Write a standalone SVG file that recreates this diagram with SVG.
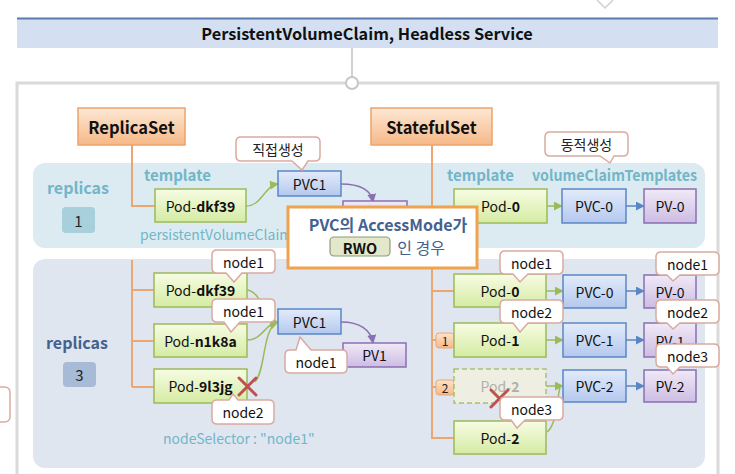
<svg xmlns="http://www.w3.org/2000/svg" width="735" height="474" viewBox="0 0 735 474">
<style>
text{font-family:"Noto Sans CJK KR","Noto Sans",sans-serif;dominant-baseline:central}
.c{text-anchor:middle}
.lbl{font-size:14px;fill:#111;text-anchor:middle}
.b{font-weight:bold}
.tpl{font-size:15px;font-weight:bold;fill:#72b6c8}
.note{font-size:14px;fill:#72b6c8}
.pod{fill:url(#gPod);stroke:#9bbb59;stroke-width:1.5}
.pvc{fill:url(#gPvc);stroke:#5b86c5;stroke-width:1.5}
.pv{fill:url(#gPv);stroke:#8a6fb3;stroke-width:1.5}
.set{fill:url(#gOr);stroke:#eda36b;stroke-width:1.5}
.call{fill:#fff;stroke:#d9aaa0;stroke-width:1.5}
.or{fill:none;stroke:#eba672;stroke-width:2}
.gr{fill:none;stroke:#9bbb59;stroke-width:1.5}
.bl{fill:none;stroke:#5b86c5;stroke-width:1.5}
.pu{fill:none;stroke:#8a6fb3;stroke-width:1.5}
.x{stroke:#c0504d;stroke-width:3;stroke-linecap:round}
</style>
<defs>
<linearGradient id="gOr" x1="0" y1="0" x2="0" y2="1"><stop offset="0" stop-color="#fde8d4"/><stop offset="1" stop-color="#f6b887"/></linearGradient>
<linearGradient id="gPod" x1="0" y1="0" x2="0" y2="1"><stop offset="0" stop-color="#f7fce4"/><stop offset="1" stop-color="#d5eba2"/></linearGradient>
<linearGradient id="gPvc" x1="0" y1="0" x2="0" y2="1"><stop offset="0" stop-color="#e3ebfa"/><stop offset="1" stop-color="#b4c8ee"/></linearGradient>
<linearGradient id="gPv" x1="0" y1="0" x2="0" y2="1"><stop offset="0" stop-color="#f0eaf7"/><stop offset="1" stop-color="#cdbce3"/></linearGradient>
<linearGradient id="gBadge" x1="0" y1="0" x2="0" y2="1"><stop offset="0" stop-color="#fde3cc"/><stop offset="1" stop-color="#f6b987"/></linearGradient>
<marker id="ag" viewBox="0 0 10 10" refX="9" refY="5" markerWidth="9" markerHeight="9" markerUnits="userSpaceOnUse" orient="auto"><path d="M0,0 L10,5 L0,10 z" fill="#9bbb59"/></marker>
<marker id="ab" viewBox="0 0 10 10" refX="9" refY="5" markerWidth="9" markerHeight="9" markerUnits="userSpaceOnUse" orient="auto"><path d="M0,0 L10,5 L0,10 z" fill="#5b86c5"/></marker>
<marker id="ap" viewBox="0 0 10 10" refX="9" refY="5" markerWidth="9" markerHeight="9" markerUnits="userSpaceOnUse" orient="auto"><path d="M0,0 L10,5 L0,10 z" fill="#8a6fb3"/></marker>
</defs>

<!-- background fragments -->
<rect x="0" y="0" width="735" height="474" fill="#ffffff"/>
<path d="M597,0 L605,8 L613,0" fill="#fff" stroke="#cfcfcf" stroke-width="1.5"/>
<rect x="-30" y="387" width="40" height="35" rx="5" class="call"/>

<!-- header -->
<g id="header">
<rect x="17" y="18" width="701" height="30" fill="#d4e0f1"/>
<line x1="17" y1="18.5" x2="718" y2="18.5" stroke="#5a7bab" stroke-width="2"/>
<text x="367" y="33" class="c b" font-size="16.3" fill="#111">PersistentVolumeClaim, Headless Service</text>
</g>
<line x1="352" y1="48" x2="352" y2="77" stroke="#d2d2d2" stroke-width="2"/>

<!-- outer panel -->
<g id="panel">
<rect x="17" y="83" width="701" height="410" fill="#fff" stroke="#dadada" stroke-width="3"/>
<circle cx="352" cy="83" r="6" fill="#fff" stroke="#c6c6c6" stroke-width="2"/>
</g>

<!-- regions -->
<rect id="region-top" x="33" y="163" width="672" height="85" rx="12" fill="#dcebf1"/>
<rect id="region-bottom" x="33" y="259" width="672" height="209" rx="12" fill="#dfe6f0"/>

<!-- labels in regions -->
<g id="replicas1">
<text x="78" y="187" class="c b" font-size="16" fill="#72b6c8">replicas</text>
<rect x="62" y="207" width="33" height="26" rx="4" fill="#a8cfdc"/>
<text x="78.5" y="220" class="c" font-size="15" fill="#222">1</text>
</g>
<g id="replicas3">
<text x="77" y="342" class="c b" font-size="16" fill="#44618f">replicas</text>
<rect x="63" y="362" width="33" height="25" rx="4" fill="#a7bad6"/>
<text x="79.5" y="374.5" class="c" font-size="15" fill="#222">3</text>
</g>
<text x="144" y="174" class="tpl">template</text>
<text x="447" y="174" class="tpl">template</text>
<text x="532" y="174" class="tpl" textLength="165" lengthAdjust="spacingAndGlyphs">volumeClaimTemplates</text>
<text x="140" y="234" class="note">persistentVolumeClaim</text>
<text x="163" y="438" class="note">nodeSelector : "node1"</text>

<!-- connectors -->
<g id="connectors">
<path class="or" d="M132,145 V206 H155"/>
<path class="or" d="M132,260 V387 M132,290 H154 M132,341 H154 M132,387 H154"/>
<path class="or" d="M432,145 V438 H454 M432,291 H454 M432,340 H437 M432,387 H437"/>
<path class="gr" d="M246,206 C262,206 264,186 278,184" marker-end="url(#ag)"/>
<path class="pu" d="M341,184 C360,184 371,190 373,202" marker-end="url(#ap)"/>
<path class="gr" d="M247,290 C263,292 264,322 278,322" marker-end="url(#ag)"/>
<path class="gr" d="M247,340 C263,340 264,324 278,322" marker-end="url(#ag)"/>
<path class="gr" d="M255,382 C266,370 262,328 278,322" marker-end="url(#ag)"/>
<path class="pu" d="M341,322 C360,322 371,330 373,343" marker-end="url(#ap)"/>
<path class="gr" d="M547,206 H562" marker-end="url(#ag)"/>
<path class="bl" d="M626,206 H644" marker-end="url(#ab)"/>
<path class="gr" d="M546,291 H563" marker-end="url(#ag)"/>
<path class="bl" d="M626,291 H644" marker-end="url(#ab)"/>
<path class="gr" d="M546,340 H563" marker-end="url(#ag)"/>
<path class="bl" d="M626,340 H644" marker-end="url(#ab)"/>
<path class="gr" d="M546,386 H563" marker-end="url(#ag)"/>
<path class="bl" d="M626,386 H644" marker-end="url(#ab)"/>
<path class="gr" d="M547,432 C557,425 557,396 560,388"/>
</g>

<!-- sets -->
<g id="replicaset"><rect x="78" y="108" width="107" height="37" class="set"/><text x="131.5" y="127" class="c b" font-size="16.5" fill="#111">ReplicaSet</text></g>
<g id="statefulset"><rect x="371" y="108" width="121" height="37" class="set"/><text x="431.5" y="127" class="c b" font-size="16.5" fill="#111">StatefulSet</text></g>

<!-- left top -->
<g id="pod-dkf39-top"><rect x="155" y="189" width="91" height="33" class="pod"/><text x="200.5" y="205.5" class="lbl">Pod-<tspan class="b">dkf39</tspan></text></g>
<g id="pvc1-top"><rect x="278" y="171" width="63" height="25" class="pvc"/><text x="309.5" y="183.5" class="lbl">PVC1</text></g>
<g id="pv1-top"><rect x="343" y="201" width="64" height="25" class="pv"/></g>
<g id="callout-direct"><path class="call" d="M241,137 H315 Q320,137 320,142 V156 Q320,161 315,161 H308 L302,170 L292,161 H241 Q236,161 236,156 V142 Q236,137 241,137 Z"/><text x="278" y="149" class="c" font-size="14" fill="#222">직접생성</text></g>

<!-- right top -->
<g id="callout-dynamic"><path class="call" d="M550,132 H623 Q628,132 628,137 V151 Q628,156 623,156 H614 L610,163 L600,156 H550 Q545,156 545,151 V137 Q545,132 550,132 Z"/><text x="586.5" y="144" class="c" font-size="14" fill="#222">동적생성</text></g>
<g id="pod-0-top"><rect x="454" y="189" width="93" height="34" class="pod"/><text x="500.5" y="206" class="lbl">Pod-<tspan class="b">0</tspan></text></g>
<g id="pvc-0-top"><rect x="562" y="189" width="64" height="34" class="pvc"/><text x="594" y="206" class="lbl">PVC-0</text></g>
<g id="pv-0-top"><rect x="644" y="189" width="52" height="34" class="pv"/><text x="670" y="206" class="lbl">PV-0</text></g>

<!-- left bottom -->
<g id="pod-dkf39"><rect x="154" y="273" width="93" height="34" class="pod"/><text x="200.5" y="290" class="lbl">Pod-<tspan class="b">dkf39</tspan></text></g>
<g id="pod-n1k8a"><rect x="154" y="324" width="93" height="33" class="pod"/><text x="200.5" y="340.5" class="lbl">Pod-<tspan class="b">n1k8a</tspan></text></g>
<g id="pod-9l3jg"><rect x="154" y="369" width="93" height="34" class="pod"/><text x="200.5" y="386" class="lbl">Pod-<tspan class="b">9l3jg</tspan></text></g>
<g id="x-left"><path class="x" d="M239,378 L256,395 M256,378 L239,395"/></g>
<g id="pvc1"><rect x="278" y="309" width="63" height="25" class="pvc"/><text x="309.5" y="321.5" class="lbl">PVC1</text></g>
<g id="pv1"><rect x="343" y="343" width="63" height="24" class="pv"/><text x="374.5" y="355" class="lbl">PV1</text></g>
<g id="n-dkf39"><path class="call" d="M217,250 H270 Q275,250 275,255 V268 Q275,273 270,273 H242 L234,282 L226,273 H217 Q212,273 212,268 V255 Q212,250 217,250 Z"/><text x="243.5" y="261.5" class="lbl">node1</text></g>
<g id="n-n1k8a"><path class="call" d="M217,299 H270 Q275,299 275,304 V317 Q275,322 270,322 H240 L231,332 L224,322 H217 Q212,322 212,317 V304 Q212,299 217,299 Z"/><text x="243.5" y="310.5" class="lbl">node1</text></g>
<g id="n-9l3jg"><path class="call" d="M217,400 H229 L233,394 L238,400 H269 Q274,400 274,405 V419 Q274,424 269,424 H217 Q212,424 212,419 V405 Q212,400 217,400 Z"/><text x="243" y="412" class="lbl">node2</text></g>
<g id="n-pvc1"><path class="call" d="M290,350 H296 L300,337 L311,350 H342 Q347,350 347,355 V368 Q347,373 342,373 H290 Q285,373 285,368 V355 Q285,350 290,350 Z"/><text x="316" y="361.5" class="lbl">node1</text></g>

<!-- right bottom -->
<g id="badge1"><rect x="436" y="333" width="18" height="15" rx="3" fill="url(#gBadge)" stroke="#eba672" stroke-width="1"/><text x="445" y="340.5" class="c" font-size="12" fill="#222">1</text></g>
<g id="badge2"><rect x="436" y="380" width="18" height="15" rx="3" fill="url(#gBadge)" stroke="#eba672" stroke-width="1"/><text x="445" y="387.5" class="c" font-size="12" fill="#222">2</text></g>
<g id="pod-0"><rect x="454" y="274" width="92" height="33" class="pod"/><text x="500" y="290.5" class="lbl">Pod-<tspan class="b">0</tspan></text></g>
<g id="pod-1"><rect x="454" y="323" width="92" height="34" class="pod"/><text x="500" y="340" class="lbl">Pod-<tspan class="b">1</tspan></text></g>
<g id="pod-2-old"><rect x="454" y="369" width="92" height="34" fill="#eeeee2" stroke="#a9c06e" stroke-width="1.5" stroke-dasharray="5,3"/><text x="500" y="386" class="lbl" style="fill:#b0b0a8">Pod-<tspan class="b">2</tspan></text></g>
<g id="pod-2"><rect x="454" y="421" width="92" height="33" class="pod"/><text x="500" y="437.5" class="lbl">Pod-<tspan class="b">2</tspan></text></g>
<g id="x-right"><path class="x" d="M491,390 L508,407 M508,390 L491,407"/></g>
<g id="pvc-0"><rect x="563" y="275" width="63" height="33" class="pvc"/><text x="594.5" y="291.5" class="lbl">PVC-0</text></g>
<g id="pvc-1"><rect x="563" y="323" width="63" height="34" class="pvc"/><text x="594.5" y="340" class="lbl">PVC-1</text></g>
<g id="pvc-2"><rect x="563" y="370" width="63" height="32" class="pvc"/><text x="594.5" y="386" class="lbl">PVC-2</text></g>
<g id="pv-0"><rect x="644" y="275" width="52" height="33" class="pv"/><text x="670" y="291.5" class="lbl">PV-0</text></g>
<g id="pv-1"><rect x="644" y="323" width="52" height="34" class="pv"/><text x="670" y="341" class="lbl">PV-1</text></g>
<g id="pv-2"><rect x="644" y="370" width="52" height="32" class="pv"/><text x="670" y="386" class="lbl">PV-2</text></g>
<g id="n-pod0"><path class="call" d="M505,251 H558 Q563,251 563,256 V269 Q563,274 558,274 H528 L520,282 L513,274 H505 Q500,274 500,269 V256 Q500,251 505,251 Z"/><text x="531.5" y="262.5" class="lbl">node1</text></g>
<g id="n-pod1"><path class="call" d="M505,300 H558 Q563,300 563,305 V318 Q563,323 558,323 H528 L520,332 L513,323 H505 Q500,323 500,318 V305 Q500,300 505,300 Z"/><text x="531.5" y="311.5" class="lbl">node2</text></g>
<g id="n-pod2"><path class="call" d="M505,397 H558 Q563,397 563,402 V415 Q563,420 558,420 H525 L517,428 L511,420 H505 Q500,420 500,415 V402 Q500,397 505,397 Z"/><text x="531.5" y="408.5" class="lbl">node3</text></g>
<g id="n-pv0"><path class="call" d="M661,252 H714 Q719,252 719,257 V270 Q719,275 714,275 H680 L673,281 L667,275 H661 Q656,275 656,270 V257 Q656,252 661,252 Z"/><text x="687.5" y="263.5" class="lbl">node1</text></g>
<g id="n-pv1"><path class="call" d="M661,300 H714 Q719,300 719,305 V318 Q719,323 714,323 H680 L673,329 L667,323 H661 Q656,323 656,318 V305 Q656,300 661,300 Z"/><text x="687.5" y="311.5" class="lbl">node2</text></g>
<g id="n-pv2"><path class="call" d="M661,344 H714 Q719,344 719,349 V362 Q719,367 714,367 H680 L673,374 L667,367 H661 Q656,367 656,362 V349 Q656,344 661,344 Z"/><text x="687.5" y="355.5" class="lbl">node3</text></g>

<!-- main callout -->
<g id="callout-rwo">
<rect x="288" y="207" width="189" height="61" fill="#fff" stroke="#f0a24e" stroke-width="3"/>
<text x="388" y="224" class="c b" font-size="16" fill="#44618f">PVC의 AccessMode가</text>
<rect x="330" y="237" width="60" height="19" rx="4" fill="#e2e8c9" stroke="#8f9c78" stroke-width="1.2"/>
<text x="360" y="247" class="c b" font-size="14.5" fill="#111">RWO</text>
<text x="421" y="247" class="c" font-size="16" fill="#44618f">인 경우</text>
</g>
</svg>
